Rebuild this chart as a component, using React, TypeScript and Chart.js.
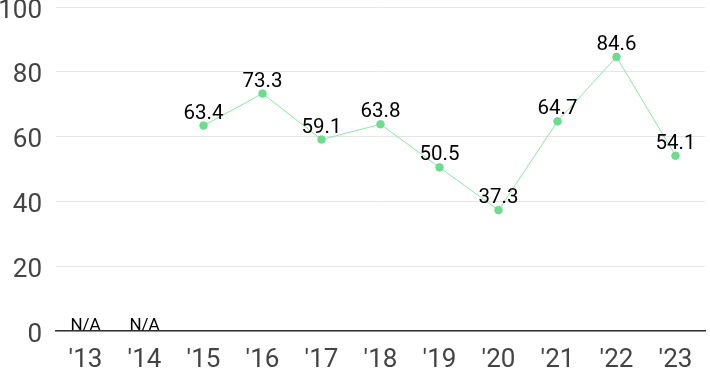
import React, { useEffect, useRef } from "react";
import { Chart, registerables } from "chart.js";

Chart.register(...registerables);

const categories = ["'13", "'14", "'15", "'16", "'17", "'18", "'19", "'20", "'21", "'22", "'23"];
const values: (number | null)[] = [null, null, 63.4, 73.3, 59.1, 63.8, 50.5, 37.3, 64.7, 84.6, 54.1];
const yTicks = [0, 20, 40, 60, 80, 100];
const missingLabel = "N/A";

const FONT = "Roboto, 'Noto Sans', sans-serif";

const labelPlugin = {
  id: "valueLabels",
  afterDatasetsDraw(chart: any) {
    const ctx = chart.ctx;
    const meta = chart.getDatasetMeta(0);
    const yScale = chart.scales.y;
    ctx.save();
    ctx.textAlign = "center";
    ctx.textBaseline = "alphabetic";
    values.forEach((v, i) => {
      const pt = meta.data[i];
      const x = chart.scales.x.getPixelForValue(i);
      ctx.fillStyle = "#000";
      if (v === null) {
        ctx.font = `17px ${FONT}`;
        ctx.fillText(missingLabel, x, yScale.getPixelForValue(0) - 1);
      } else {
        ctx.font = `20.5px ${FONT}`;
        ctx.fillText(v.toFixed(1), x, pt.y - 7);
      }
    });
    ctx.restore();
  },
};

export default function App() {
  const ref = useRef<HTMLCanvasElement>(null);
  useEffect(() => {
    const chart = new Chart(ref.current!, {
      type: "line",
      data: {
        labels: categories,
        datasets: [
          {
            data: values,
            borderColor: "#8fe4a8",
            borderWidth: 1,
            pointBackgroundColor: "#6ddc8f",
            pointBorderColor: "#6ddc8f",
            pointRadius: 3.8,
            spanGaps: false,
          },
        ],
      },
      options: {
        animation: false,
        responsive: false,
        maintainAspectRatio: false,
        layout: { padding: { top: 7, right: 0, left: 0, bottom: 0 } },
        plugins: { legend: { display: false }, tooltip: { enabled: false } },
        scales: {
          x: {
            offset: true,
            grid: { display: false, drawTicks: false },
            border: { display: true, color: "#333", width: 1.5 },
            ticks: { color: "#444", font: { size: 26, family: FONT }, padding: 14 },
            afterFit: (axis: any) => {
              axis.height = 40;
              axis.paddingLeft = 0;
              axis.paddingRight = 0;
            },
          },
          y: {
            min: 0,
            max: 100,
            afterBuildTicks: (axis: any) => {
              axis.ticks = yTicks.map((v) => ({ value: v }));
            },
            grid: { color: "#e6e6e6", drawTicks: false },
            border: { display: false },
            ticks: { color: "#444", font: { size: 26, family: FONT }, padding: 14, labelOffset: 4 },
            afterFit: (axis: any) => {
              axis.width = 56;
              axis.paddingTop = 0;
              axis.paddingBottom = 0;
            },
          },
        },
      },
      plugins: [labelPlugin],
    });
    return () => chart.destroy();
  }, []);
  return (
    <div style={{ position: "fixed", left: 0, top: 0, width: 710, height: 371 }}>
      <canvas ref={ref} width={710} height={371} style={{ display: "block" }} />
    </div>
  );
}
